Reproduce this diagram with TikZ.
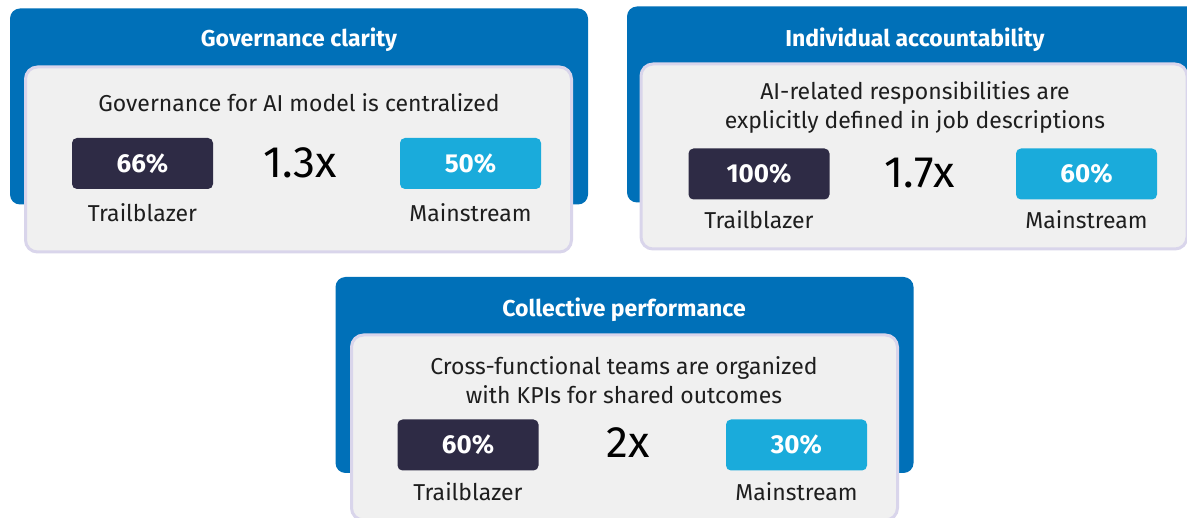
\documentclass[tikz,border=0pt]{standalone}
\usepackage{fontspec}
\setmainfont{Fira Sans}
\usetikzlibrary{positioning}
\definecolor{panelblue}{HTML}{0070B8}
\definecolor{cardgray}{HTML}{F0F0F0}
\definecolor{cardline}{HTML}{D9D5EB}
\definecolor{trailcol}{HTML}{2E2B45}
\definecolor{maincol}{HTML}{1AABDB}
\definecolor{inkcol}{HTML}{1E1E1E}
\tikzset{
    panel/.style={fill=panelblue, rounded corners=10pt, minimum width=578pt, minimum height=196pt, inner sep=0pt},
    card/.style={fill=cardgray, draw=cardline, line width=3pt, rounded corners=12pt, minimum width=546pt, minimum height=185pt, inner sep=0pt},
    heading/.style={text=white, font=\fontsize{23}{26}\selectfont\bfseries},
    claim/.style={text=inkcol, align=center, font=\fontsize{23}{28.5}\selectfont},
    trailbox/.style={fill=trailcol, rounded corners=5pt, minimum width=141pt, minimum height=51pt, text=white, font=\fontsize{26}{30}\selectfont\bfseries},
    mainbox/.style={trailbox, fill=maincol},
    ratio/.style={text=black, font=\fontsize{44}{48}\selectfont},
    group/.style={text=inkcol, font=\fontsize{23}{26}\selectfont}
}
\begin{document}
\begin{tikzpicture}[x=1pt, y=-1pt]
                    \useasboundingbox[fill=white] (0, 0) rectangle (1187, 518);
                    % Governance clarity
                    \node[panel] (govpanel) at (299, 106.5) {};
                    \node[card] (govcard) at (298.5, 159.5) {};
                    \node[heading] (govtitle) at (299, 40) {Governance clarity};
                    \node[claim] (govclaim) at (299, 103) {Governance for AI model is centralized};
                    \node[trailbox] (govtrail) at (142.5, 163.5) {66\%};
                    \node[ratio] (govratio) at (300, 163) {1.3x};
                    \node[mainbox] (govmain) at (470.5, 163.5) {50\%};
                    \node[group] (govtraillabel) at (142.5, 213) {Trailblazer};
                    \node[group] (govmainlabel) at (470.5, 213) {Mainstream};
                    % Individual accountability
                    \node[panel] (indpanel) at (916, 104.5) {};
                    \node[card] (indcard) at (914, 156.5) {};
                    \node[heading] (indtitle) at (915, 40) {Individual accountability};
                    \node[claim] (indclaim) at (915, 107.5) {AI-related responsibilities are\\explicitly defined in job descriptions};
                    \node[trailbox] (indtrail) at (759, 174) {100\%};
                    \node[ratio] (indratio) at (920, 173) {1.7x};
                    \node[mainbox] (indmain) at (1086.5, 174) {60\%};
                    \node[group] (indtraillabel) at (759, 220) {Trailblazer};
                    \node[group] (indmainlabel) at (1086.5, 220) {Mainstream};
                    % Collective performance
                    \node[panel] (colpanel) at (624.5, 375) {};
                    \node[card] (colcard) at (624.5, 427.5) {};
                    \node[heading] (coltitle) at (624, 310) {Collective performance};
                    \node[claim] (colclaim) at (624, 380) {Cross-functional teams are organized\\with KPIs for shared outcomes};
                    \node[trailbox] (coltrail) at (468, 445) {60\%};
                    \node[ratio] (colratio) at (628, 443) {2x};
                    \node[mainbox] (colmain) at (796.5, 445) {30\%};
                    \node[group] (coltraillabel) at (468, 492) {Trailblazer};
                    \node[group] (colmainlabel) at (796.5, 492) {Mainstream};
                \end{tikzpicture}
\end{document}
